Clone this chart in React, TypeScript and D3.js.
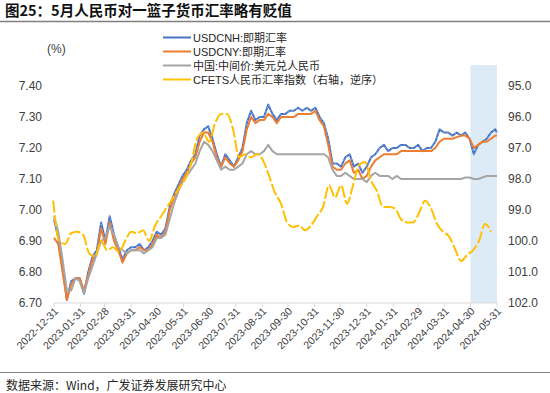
import React from "react";
import * as d3 from "d3";

const dailyDates = [
  "2022-12-31","2023-01-05","2023-01-10","2023-01-15","2023-01-20","2023-01-25","2023-01-30","2023-02-04","2023-02-09","2023-02-14",
  "2023-02-19","2023-02-24","2023-03-01","2023-03-06","2023-03-11","2023-03-16","2023-03-21","2023-03-26","2023-03-31","2023-04-05",
  "2023-04-10","2023-04-15","2023-04-20","2023-04-25","2023-04-30","2023-05-05","2023-05-10","2023-05-15","2023-05-20","2023-05-25",
  "2023-05-30","2023-06-04","2023-06-09","2023-06-14","2023-06-19","2023-06-24","2023-06-29","2023-07-04","2023-07-09","2023-07-14",
  "2023-07-19","2023-07-24","2023-07-29","2023-08-03","2023-08-08","2023-08-13","2023-08-18","2023-08-23","2023-08-28","2023-09-02",
  "2023-09-07","2023-09-12","2023-09-17","2023-09-22","2023-09-27","2023-10-02","2023-10-07","2023-10-12","2023-10-17","2023-10-22",
  "2023-10-27","2023-11-01","2023-11-06","2023-11-11","2023-11-16","2023-11-21","2023-11-26","2023-12-01","2023-12-06","2023-12-11",
  "2023-12-16","2023-12-21","2023-12-26","2023-12-31","2024-01-05","2024-01-10","2024-01-15","2024-01-20","2024-01-25","2024-01-30",
  "2024-02-04","2024-02-09","2024-02-14","2024-02-19","2024-02-24","2024-02-29","2024-03-05","2024-03-10","2024-03-15","2024-03-20",
  "2024-03-25","2024-03-30","2024-04-04","2024-04-09","2024-04-14","2024-04-19","2024-04-24","2024-04-29","2024-05-04","2024-05-09",
  "2024-05-14","2024-05-19","2024-05-24","2024-05-29","2024-05-31",
];

const usdcnh = [
  6.97,6.91,6.82,6.71,6.77,6.78,6.78,6.73,6.80,6.85,
  6.87,6.96,6.90,6.98,6.92,6.88,6.84,6.87,6.88,6.88,
  6.89,6.87,6.88,6.90,6.93,6.92,6.94,7.01,7.05,7.08,
  7.11,7.13,7.16,7.18,7.24,7.26,7.27,7.23,7.18,7.14,
  7.18,7.16,7.14,7.17,7.20,7.28,7.32,7.29,7.30,7.30,
  7.34,7.31,7.29,7.31,7.31,7.32,7.32,7.33,7.32,7.33,
  7.32,7.33,7.30,7.28,7.23,7.15,7.15,7.14,7.17,7.18,
  7.14,7.15,7.12,7.14,7.17,7.18,7.20,7.21,7.19,7.20,
  7.20,7.21,7.21,7.20,7.20,7.21,7.19,7.20,7.20,7.22,
  7.26,7.25,7.25,7.24,7.25,7.24,7.25,7.23,7.18,7.21,
  7.22,7.23,7.25,7.26,7.25,
];

const usdcny = [
  6.91,6.89,6.80,6.71,6.76,6.78,6.78,6.74,6.79,6.84,
  6.86,6.94,6.89,6.96,6.90,6.87,6.83,6.86,6.87,6.87,
  6.88,6.87,6.87,6.89,6.92,6.91,6.93,7.00,7.04,7.07,
  7.10,7.12,7.15,7.17,7.22,7.25,7.25,7.22,7.17,7.14,
  7.17,7.15,7.14,7.16,7.19,7.26,7.30,7.28,7.29,7.29,
  7.31,7.30,7.28,7.30,7.30,7.30,7.30,7.31,7.31,7.31,
  7.31,7.32,7.29,7.27,7.21,7.14,7.13,7.13,7.15,7.16,
  7.12,7.13,7.10,7.11,7.14,7.16,7.17,7.18,7.18,7.18,
  7.18,7.19,7.19,7.19,7.19,7.19,7.19,7.19,7.19,7.20,
  7.22,7.23,7.23,7.23,7.235,7.24,7.24,7.23,7.20,7.21,
  7.22,7.22,7.23,7.24,7.24,
];

const centralParity = [
  6.98,6.93,6.84,6.74,6.74,6.78,6.77,6.73,6.78,6.82,
  6.86,6.90,6.91,6.95,6.92,6.88,6.87,6.86,6.87,6.87,
  6.87,6.86,6.87,6.88,6.91,6.91,6.92,6.97,7.02,7.06,
  7.09,7.11,7.13,7.15,7.19,7.22,7.21,7.19,7.16,7.13,
  7.14,7.13,7.13,7.14,7.15,7.18,7.19,7.18,7.18,7.19,
  7.21,7.19,7.18,7.18,7.18,7.18,7.18,7.18,7.18,7.18,
  7.18,7.18,7.18,7.18,7.17,7.13,7.11,7.11,7.12,7.11,
  7.10,7.10,7.10,7.09,7.11,7.12,7.11,7.11,7.11,7.10,
  7.11,7.10,7.10,7.10,7.10,7.10,7.10,7.10,7.10,7.10,
  7.10,7.10,7.10,7.10,7.10,7.10,7.105,7.105,7.10,7.10,
  7.105,7.11,7.11,7.11,7.11,
];

const cfetsDates = [
  "2022-12-30","2023-01-06","2023-01-13","2023-01-20","2023-01-27","2023-02-03","2023-02-10","2023-02-17","2023-02-24","2023-03-03",
  "2023-03-10","2023-03-17","2023-03-24","2023-03-31","2023-04-07","2023-04-14","2023-04-21","2023-04-28","2023-05-05","2023-05-12",
  "2023-05-19","2023-05-26","2023-06-02","2023-06-09","2023-06-16","2023-06-23","2023-06-30","2023-07-07","2023-07-14","2023-07-21",
  "2023-07-28","2023-08-04","2023-08-11","2023-08-18","2023-08-25","2023-09-01","2023-09-08","2023-09-15","2023-09-22","2023-09-29",
  "2023-10-06","2023-10-13","2023-10-20","2023-10-27","2023-11-03","2023-11-10","2023-11-17","2023-11-24","2023-12-01","2023-12-08",
  "2023-12-15","2023-12-22","2023-12-29","2024-01-05","2024-01-12","2024-01-19","2024-01-26","2024-02-02","2024-02-09","2024-02-16",
  "2024-02-23","2024-03-01","2024-03-08","2024-03-15","2024-03-22","2024-03-29","2024-04-05","2024-04-12","2024-04-19","2024-04-26",
  "2024-05-03","2024-05-10","2024-05-17","2024-05-24",
];

const cfets = [
  98.7,100.0,100.1,99.75,99.7,99.8,100.4,100.5,100.0,100.3,
  100.2,100.35,100.0,99.7,99.75,99.65,100.0,99.5,99.2,98.9,
  98.6,98.3,98.0,97.5,96.7,96.5,96.8,96.2,95.9,95.9,
  96.4,97.3,97.2,97.3,97.2,97.4,97.9,98.45,98.8,99.4,
  99.55,99.5,99.65,99.5,99.2,98.9,98.2,98.6,98.2,98.8,
  98.2,97.55,97.45,98.05,98.4,98.9,98.9,98.95,99.3,99.4,
  99.4,99.1,98.7,98.95,99.45,99.7,99.85,100.25,100.65,100.45,
  100.3,100.0,99.45,99.7,
];

const xTickLabels = [
  "2022-12-31","2023-01-31","2023-02-28","2023-03-31","2023-04-30","2023-05-31","2023-06-30","2023-07-31","2023-08-31",
  "2023-09-30","2023-10-31","2023-11-30","2023-12-31","2024-01-31","2024-02-29","2024-03-31","2024-04-30","2024-05-31",
];
const leftTicks = [6.7, 6.8, 6.9, 7.0, 7.1, 7.2, 7.3, 7.4];
const rightTicks = [95, 96, 97, 98, 99, 100, 101, 102];
const shadeRange = ["2024-04-30", "2024-05-31"];
const seriesNames = ["USDCNH:即期汇率", "USDCNY:即期汇率", "中国:中间价:美元兑人民币", "CFETS人民币汇率指数（右轴，逆序）"];
const seriesColors = ["#4472C4", "#ED7D31", "#A5A5A5", "#FFC000"];

const parse = d3.timeParse("%Y-%m-%d");
const FONT = "'Liberation Sans', 'Noto Sans CJK SC', sans-serif";
const CJK = "'Noto Sans CJK SC', sans-serif";

export default function App() {
  const x = d3.scaleTime()
    .domain([parse("2022-12-31")!, parse("2024-05-31")!])
    .range([54, 497]);
  const yL = d3.scaleLinear().domain([6.7, 7.4]).range([303, 86]);
  const yR = d3.scaleLinear().domain([102, 95]).range([303, 86]);

  const dd = dailyDates.map((s) => parse(s)!);
  const cd = cfetsDates.map((s) => parse(s)!);

  const lineL = d3.line<number>().x((_, i) => x(dd[i])).y((v) => yL(v));
  const lineR = d3.line<number>().x((_, i) => x(cd[i])).y((v) => yR(v)).curve(d3.curveMonotoneX);

  const sx0 = x(parse(shadeRange[0])!);
  const sx1 = x(parse(shadeRange[1])!);

  return (
    <svg width={550} height={393} style={{ position: "absolute", left: 0, top: 0, background: "#fff" }}>
      {/* title */}
      <text x={5} y={16} fontFamily={CJK} fontWeight={700} fontSize={14.5} fill="#111">
        图25：5月人民币对一篮子货币汇率略有贬值
      </text>
      <line x1={0} x2={550} y1={21.5} y2={21.5} stroke="#7f7f7f" strokeWidth={1.5} />

      {/* shaded band */}
      <rect x={sx0} y={65} width={sx1 - sx0} height={303 - 65} fill="#DDEBF7" />

      {/* x axis */}
      <line x1={54} x2={497} y1={303} y2={303} stroke="#D9D9D9" strokeWidth={1} />
      {xTickLabels.map((t) => {
        const px = x(parse(t)!);
        return (
          <g key={t}>
            <line x1={px} x2={px} y1={303} y2={307} stroke="#D9D9D9" />
            <text
              transform={`translate(${px + 3},${310}) rotate(-45)`}
              textAnchor="end"
              dominantBaseline="middle"
              fontFamily={FONT}
              fontSize={10.5}
              fill="#404040"
            >
              {t}
            </text>
          </g>
        );
      })}

      {/* left axis */}
      {leftTicks.map((t) => (
        <text key={t} x={42} y={yL(t)} textAnchor="end" dominantBaseline="central" fontFamily={FONT} fontSize={12} fill="#404040">
          {t.toFixed(2)}
        </text>
      ))}
      <text x={47} y={49} dominantBaseline="central" fontFamily={FONT} fontSize={12} fill="#404040">(%)</text>

      {/* right axis */}
      {rightTicks.map((t) => (
        <text key={t} x={508} y={yR(t)} dominantBaseline="central" fontFamily={FONT} fontSize={12} fill="#404040">
          {t.toFixed(1)}
        </text>
      ))}

      {/* series */}
      <path d={lineL(usdcnh)!} fill="none" stroke={seriesColors[0]} strokeWidth={2} strokeLinejoin="round" />
      <path d={lineL(usdcnh)!} fill="none" stroke="#ffffff" strokeOpacity={0.55} strokeWidth={0.8} strokeDasharray="1.5 3" />
      <path d={lineL(usdcny)!} fill="none" stroke={seriesColors[1]} strokeWidth={2} strokeLinejoin="round" />
      <path d={lineL(centralParity)!} fill="none" stroke={seriesColors[2]} strokeWidth={2} strokeLinejoin="round" />
      <path d={lineR(cfets)!} fill="none" stroke={seriesColors[3]} strokeWidth={2} strokeDasharray="12 2.5" strokeLinejoin="round" />

      {/* legend */}
      {seriesNames.map((n, i) => {
        const ly = 37.5 + i * 14;
        return (
          <g key={n}>
            <line x1={163} x2={191} y1={ly} y2={ly} stroke={seriesColors[i]} strokeWidth={2} />
            <text x={193} y={ly} dominantBaseline="central" fontFamily={FONT} fontSize={11} fill="#262626">
              {n}
            </text>
          </g>
        );
      })}

      {/* footer */}
      <line x1={0} x2={550} y1={372.5} y2={372.5} stroke="#7f7f7f" strokeWidth={1} />
      <text x={6} y={384} dominantBaseline="central" fontFamily={CJK} fontSize={12} fill="#262626">
        数据来源：Wind，广发证券发展研究中心
      </text>
    </svg>
  );
}
